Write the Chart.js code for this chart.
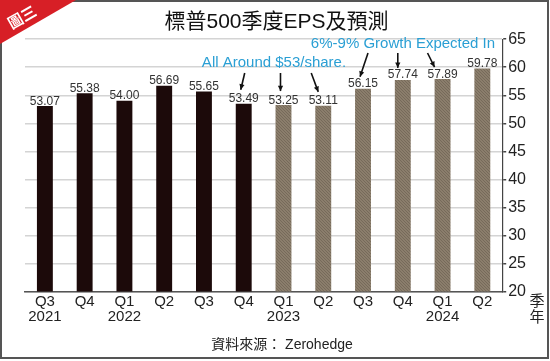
<!DOCTYPE html>
<html><head><meta charset="utf-8">
<script src="https://cdn.jsdelivr.net/npm/chart.js@4.4.1/dist/chart.umd.min.js"></script>
<style>html,body{margin:0;padding:0;background:#fff}#wrap{width:550px;height:361px}</style>
</head><body><div id="wrap"><canvas id="c" width="550" height="361"></canvas></div>
<script>
const quarters = [['Q3','2021'],['Q4',''],['Q1','2022'],['Q2',''],['Q3',''],['Q4',''],['Q1','2023'],['Q2',''],['Q3',''],['Q4',''],['Q1','2024'],['Q2','']];
const eps = [53.07, 55.38, 54.00, 56.69, 55.65, 53.49, 53.25, 53.11, 56.15, 57.74, 57.89, 59.78];
const isForecast = [false,false,false,false,false,false,true,true,true,true,true,true];
const yMin = 20, yMax = 65, yStep = 2.5;
const titleText = '標普500季度EPS及預測';
const noteA = 'All Around $53/share.';
const noteB = '6%-9% Growth Expected In';
const noteAIdx = [5,6,7];
const noteBIdx = [8,9,10];
const sourceText = '資料來源： Zerohedge';
const axisTitle = ['季','年'];
const FF = '"Liberation Sans", Arial, "Noto Sans CJK TC", sans-serif';

// texture for forecast bars
const pc = document.createElement('canvas'); pc.width = 3; pc.height = 3;
const px = pc.getContext('2d');
px.fillStyle = '#8b7e6c'; px.fillRect(0,0,3,3);
px.fillStyle = '#766a5a'; px.fillRect(0,0,1,1); px.fillRect(1,1,1,1); px.fillRect(2,2,1,1);
const pattern = px.createPattern(pc, 'repeat');
const colors = isForecast.map(f => f ? pattern : '#1c0a0a');

const deco = {
  id: 'deco',
  beforeDraw(chart) {
    const ctx = chart.ctx;
    ctx.save();
    ctx.fillStyle = '#fff'; ctx.fillRect(0,0,chart.width,chart.height);
    ctx.restore();
  },
  afterDraw(chart) {
    const ctx = chart.ctx;
    const meta = chart.getDatasetMeta(0);
    ctx.save();
    // value labels
    ctx.font = '12px ' + FF; ctx.fillStyle = '#333'; ctx.textAlign = 'center'; ctx.textBaseline = 'alphabetic';
    meta.data.forEach((b, i) => { ctx.fillText(eps[i].toFixed(2), b.x, b.y - 1.5); });
    // notes
    ctx.fillStyle = '#2a9fd4'; ctx.font = '15px ' + FF; ctx.textBaseline = 'middle';
    ctx.textAlign = 'center';
    const ya = 63, yb = 44;
    ctx.fillText(noteA, 274, ya);
    ctx.fillText(noteB, 403, yb);
    // arrows
    ctx.strokeStyle = '#111'; ctx.fillStyle = '#111'; ctx.lineWidth = 1.6;
    const arrow = (x1,y1,x2,y2) => {
      ctx.beginPath(); ctx.moveTo(x1,y1); ctx.lineTo(x2,y2); ctx.stroke();
      const a = Math.atan2(y2-y1, x2-x1), L = 6;
      ctx.beginPath(); ctx.moveTo(x2,y2);
      ctx.lineTo(x2 - L*Math.cos(a-0.45), y2 - L*Math.sin(a-0.45));
      ctx.lineTo(x2 - L*Math.cos(a+0.45), y2 - L*Math.sin(a+0.45));
      ctx.closePath(); ctx.fill();
    };
    const offA = [[1,-3],[-3,-3],[-12,-5]];
    noteAIdx.forEach((i,k) => { const b = meta.data[i]; arrow(b.x+offA[k][0], ya+10, b.x+offA[k][1], b.y-14); });
    const offB = [[5,-3],[-5,-5],[-15,-8]];
    noteBIdx.forEach((i,k) => { const b = meta.data[i]; arrow(b.x+offB[k][0], yb+9, b.x+offB[k][1], b.y-12); });
    // axis title
    ctx.fillStyle = '#222'; ctx.font = '15px "Noto Sans CJK TC", sans-serif'; ctx.textAlign = 'center'; ctx.textBaseline = 'middle';
    ctx.fillText(axisTitle[0], 537, 300); ctx.fillText(axisTitle[1], 537, 316);
    // source
    ctx.font = '14px ' + FF; ctx.fillStyle = '#222';
    ctx.fillText(sourceText, 282, 345);
    // border
    ctx.strokeStyle = '#555'; ctx.lineWidth = 2;
    ctx.strokeRect(1, 1, 547, 357);
    // badge
    ctx.fillStyle = '#d71f26';
    ctx.beginPath(); ctx.moveTo(0,0); ctx.lineTo(76,0); ctx.lineTo(0,44); ctx.closePath(); ctx.fill();
    ctx.translate(22, 17); ctx.rotate(-0.52);
    ctx.fillStyle = '#fff'; ctx.font = 'bold 15px "Noto Sans CJK TC", sans-serif';
    ctx.fillText('圖三', 0, 0);
    ctx.restore();
  }
};

new Chart(document.getElementById('c'), {
  type: 'bar',
  data: { labels: quarters, datasets: [{ data: eps, backgroundColor: colors, barPercentage: 0.4, categoryPercentage: 1.0 }] },
  options: {
    responsive: false, animation: false,
    layout: { padding: { left: 25, right: 22, top: 0, bottom: 34 } },
    plugins: {
      legend: { display: false }, tooltip: { enabled: false },
      title: { display: true, text: titleText, color: '#111', font: { family: FF, size: 21, weight: 'normal' }, padding: { top: 10, bottom: 4 } }
    },
    scales: {
      x: {
        grid: { display: false, drawTicks: false },
        border: { color: '#555', width: 1.5 },
        ticks: { color: '#222', font: { family: FF, size: 15, lineHeight: 1.05 }, padding: 2, maxRotation: 0, autoSkip: false }
      },
      y: {
        position: 'right', min: yMin, max: yMax,
        grid: { color: '#d4d4d4', lineWidth: 1.5, tickColor: '#444', tickLength: 4 },
        border: { color: '#444', width: 1.2 },
        ticks: { stepSize: yStep, color: '#222', font: { family: FF, size: 16 }, padding: 2,
          callback: v => (v % 5 === 0 ? String(v) : '') }
      }
    }
  },
  plugins: [deco]
});
</script></body></html>
